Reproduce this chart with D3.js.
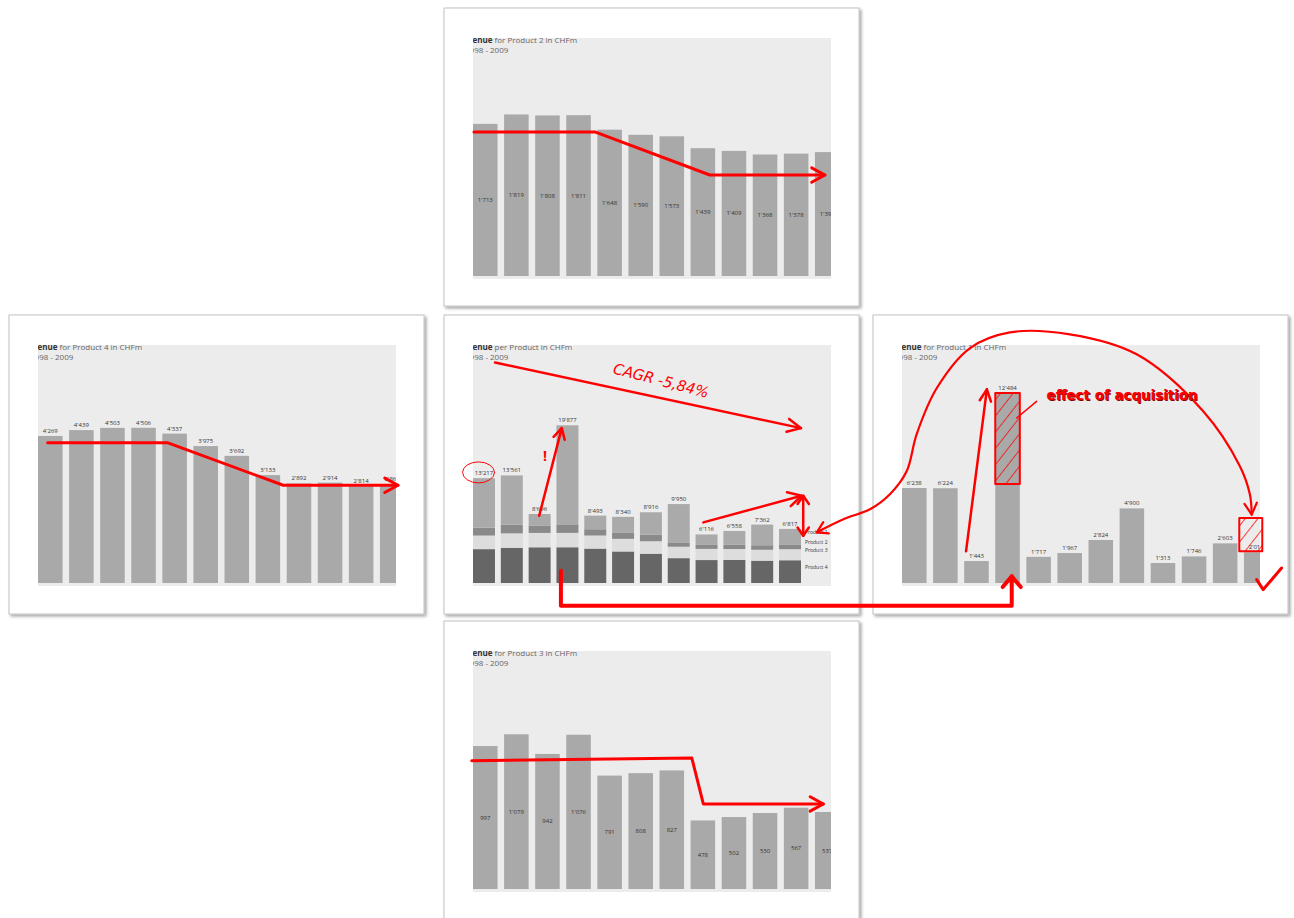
<!DOCTYPE html>
<html>
<head>
<meta charset="utf-8">
<script src="https://cdn.jsdelivr.net/npm/d3@7"></script>
<style>
  body { margin: 0; background: #fff; }
  svg { display: block; font-family: "Open Sans", "Liberation Sans", sans-serif; }
</style>
</head>
<body>
<div id="container"></div>
<script>
let w = 1294;
let h = 918;

// data (CHF m)
const years = ["1998", "1999", "2000", "2001", "2002", "2003", "2004", "2005", "2006", "2007", "2008", "2009"];
const product1 = [6238, 6224, 1443, 12484, 1717, 1967, 2824, 4900, 1313, 1746, 2603, 2018];
const product2 = [1713, 1819, 1808, 1811, 1648, 1590, 1573, 1439, 1409, 1368, 1378, 1395];
const product3 = [997, 1079, 942, 1076, 791, 808, 827, 478, 502, 530, 567, 537];
const product4 = [4269, 4439, 4503, 4506, 4337, 3975, 3692, 3133, 2892, 2914, 2814, 2867];
const productNames = ["Product 1", "Product 2", "Product 3", "Product 4"];
const stackOrder = ["Product 4", "Product 2", "Product 3", "Product 1"]; // bottom -> top
const acquisitionBase = 6500; // 2001 product 1 without the acquisition

const fmt = d3.formatLocale({decimal: ".", thousands: "'", grouping: [3], currency: ["", ""]}).format(",");

let viz = d3.select("#container").append("svg")
    .attr("width", w)
    .attr("height", h)
    .style("background-color", "#fff");

let defs = viz.append("defs");
let shadow = defs.append("filter").attr("id", "shadow")
    .attr("x", "-5%").attr("y", "-5%").attr("width", "110%").attr("height", "110%");
shadow.append("feDropShadow")
    .attr("dx", 2).attr("dy", 2).attr("stdDeviation", 1.6)
    .attr("flood-color", "#000").attr("flood-opacity", 0.35);

let hatch = defs.append("pattern").attr("id", "hatch")
    .attr("patternUnits", "userSpaceOnUse")
    .attr("width", 10).attr("height", 10)
    .attr("patternTransform", "rotate(38)");
hatch.append("line").attr("x1", 0).attr("y1", 0).attr("x2", 0).attr("y2", 10)
    .attr("stroke", "#ff0000").attr("stroke-width", 1.5);

// one card per chart
let panels = [
  {id: "p2", x: 444, y: 8, ch: 298, what: " for Product 2 in CHFm", values: product2, max: 2680, labels: "mid"},
  {id: "p4", x: 9, y: 315, ch: 299, what: " for Product 4 in CHFm", values: product4, max: 6910, labels: "top"},
  {id: "tot", x: 444, y: 315, ch: 299, what: " per Product in CHFm", stacked: true, max: 30000, labels: "top"},
  {id: "p1", x: 873, y: 315, ch: 299, what: " for Product 1 in CHFm", values: product1, max: 15630, labels: "top"},
  {id: "p3", x: 444, y: 621, ch: 310, what: " for Product 3 in CHFm", values: product3, max: 1660, labels: "mid"}
];

let table = years.map((y, i) => ({
  year: y,
  "Product 1": product1[i], "Product 2": product2[i], "Product 3": product3[i], "Product 4": product4[i]
}));
let totals = table.map(d => productNames.reduce((s, k) => s + d[k], 0));
let stackColors = {"Product 4": "#666666", "Product 2": "#dddddd", "Product 3": "#8a8a8a", "Product 1": "#aaaaaa"};

panels.forEach(drawPanel);

function drawPanel(p) {
  let g = viz.append("g").attr("transform", "translate(" + p.x + "," + p.y + ")");
  g.append("rect")
      .attr("width", 415).attr("height", p.ch)
      .attr("fill", "#fff").attr("stroke", "#c2c2c2")
      .attr("filter", "url(#shadow)");

  defs.append("clipPath").attr("id", "clip-" + p.id)
    .append("rect").attr("x", 29).attr("y", 27).attr("width", 358).attr("height", 246);

  let inner = g.append("g").attr("clip-path", "url(#clip-" + p.id + ")");
  inner.append("rect").attr("x", 29).attr("y", 30).attr("width", 358).attr("height", 241).attr("fill", "#ececec");

  p.xScale = d3.scaleBand().domain(years)
      .range(p.stacked ? [29, 357] : [29, 395.5])
      .paddingInner(0.21).paddingOuter(0);
  p.yScale = d3.scaleLinear().domain([0, p.max]).range([268, 30]);
  let x = p.xScale, y = p.yScale;

  // title, cut off on the left like the screenshot
  let t = inner.append("text").attr("x", 14).attr("y", 35).attr("font-size", 8).attr("fill", "#666");
  t.append("tspan").attr("font-weight", "bold").attr("fill", "#333").text("Revenue");
  t.append("tspan").text(p.what);
  inner.append("text").attr("x", 21).attr("y", 45).attr("font-size", 8).attr("fill", "#666").text("1998 - 2009");

  if (p.stacked) {
    let series = d3.stack().keys(stackOrder)(table);
    inner.selectAll(".layer").data(series).enter()
      .append("g")
        .attr("class", "layer")
        .attr("fill", d => stackColors[d.key])
      .selectAll("rect").data(d => d).enter()
      .append("rect")
        .attr("x", d => x(d.data.year))
        .attr("width", x.bandwidth())
        .attr("y", d => y(d[1]))
        .attr("height", d => y(d[0]) - y(d[1]));

    inner.selectAll(".total").data(totals).enter()
      .append("text")
        .attr("class", "total")
        .attr("x", (d, i) => x(years[i]) + x.bandwidth() / 2)
        .attr("y", d => y(d) - 3)
        .attr("text-anchor", "middle").attr("font-size", 6).attr("fill", "#333")
        .text(d => fmt(d));

    // legend next to last bar: segments from top down
    let last = series.map(s => s[s.length - 1]).reverse();
    inner.selectAll(".legend").data(productNames).enter()
      .append("text")
        .attr("class", "legend")
        .attr("x", x(years[11]) + x.bandwidth() + 4)
        .attr("y", (d, i) => y((last[i][0] + last[i][1]) / 2) - 3)
        .attr("font-size", 5).attr("fill", "#333")
        .text(d => d);
  } else {
    inner.selectAll(".bar").data(p.values).enter()
      .append("rect")
        .attr("class", "bar")
        .attr("x", (d, i) => x(years[i]))
        .attr("width", x.bandwidth())
        .attr("y", d => y(d))
        .attr("height", d => y(0) - y(d))
        .attr("fill", "#a9a9a9");

    inner.selectAll(".val").data(p.values).enter()
      .append("text")
        .attr("class", "val")
        .attr("x", (d, i) => x(years[i]) + x.bandwidth() / 2)
        .attr("y", d => p.labels == "mid" ? (y(d) + y(0)) / 2 + 2 : y(d) - 3)
        .attr("text-anchor", "middle").attr("font-size", 6).attr("fill", "#333")
        .text(d => fmt(d));
  }
}

// ---- red hand annotations, placed in each chart's own scale units ----
let P = {};
panels.forEach(p => P[p.id] = p);
function px(p, pos) { return p.x + p.xScale(years[0]) + pos * p.xScale.step(); }
function py(p, v) { return p.y + p.yScale(v); }
function pt(p, d) { return [px(p, d[0]), py(p, d[1])]; }

let red = "#ff0000";
let ann = viz.append("g")
    .attr("fill", "none").attr("stroke", red)
    .attr("stroke-linecap", "round").attr("stroke-linejoin", "round");

function arrowHead(tip, from, len, spread) {
  let a = Math.atan2(tip[1] - from[1], tip[0] - from[0]);
  return d3.line()([
    [tip[0] - len * Math.cos(a - spread), tip[1] - len * Math.sin(a - spread)],
    tip,
    [tip[0] - len * Math.cos(a + spread), tip[1] - len * Math.sin(a + spread)]
  ]);
}
function arrowPath(xy, width, len, spread) {
  ann.append("path").attr("d", d3.line()(xy)).attr("stroke-width", width);
  ann.append("path").attr("d", arrowHead(xy[xy.length - 1], xy[xy.length - 2], len || 15, spread || 0.5))
      .attr("stroke-width", width);
}

// trend lines on the single product charts
arrowPath([[0.03, 1622], [3.92, 1622], [7.62, 1137], [11.32, 1137]].map(d => pt(P.p2, d)), 3);
arrowPath([[0.31, 4075], [4.16, 4075], [7.89, 2838], [11.58, 2838]].map(d => pt(P.p4, d)), 3);
arrowPath([[-0.04, 895], [7.04, 913], [7.41, 593], [11.27, 593]].map(d => pt(P.p3, d)), 3);

// CAGR arrow
let tot = P.tot;
let cagrA = pt(tot, [0.79, 27800]), cagrB = pt(tot, [11.79, 19520]);
arrowPath([cagrA, cagrB], 2.5, 15, 0.45);
let cagr = Math.pow(totals[11] / totals[0], 1 / (years.length - 1)) - 1;
let ang = Math.atan2(cagrB[1] - cagrA[1], cagrB[0] - cagrA[0]);
let tx = cagrA[0] + 0.53 * (cagrB[0] - cagrA[0]) + 12 * Math.sin(ang);
let ty = cagrA[1] + 0.53 * (cagrB[1] - cagrA[1]) - 12 * Math.cos(ang);
viz.append("text")
    .attr("transform", "translate(" + tx + "," + ty + ") rotate(" + (ang * 180 / Math.PI + 2.5) + ")")
    .attr("text-anchor", "middle")
    .attr("font-family", "'DejaVu Sans', sans-serif").attr("font-style", "italic")
    .attr("font-size", 15).attr("fill", red)
    .attr("textLength", 98).attr("lengthAdjust", "spacingAndGlyphs")
    .text("CAGR " + d3.format(".2%")(cagr).replace(".", ",").replace("−", "-"));

// circle on the first total, exclamation and arrows
ann.append("ellipse")
    .attr("cx", px(tot, 0.2)).attr("cy", py(tot, 13942))
    .attr("rx", 16).attr("ry", 10.5).attr("stroke-width", 1);
viz.append("text")
    .attr("x", px(tot, 2.59)).attr("y", py(tot, 15995) + 5)
    .attr("text-anchor", "middle").attr("font-weight", "bold")
    .attr("font-size", 14).attr("fill", red).text("!");
arrowPath([pt(tot, [2.38, 8476]), pt(tot, [3.19, 19521])], 2.5, 12, 0.5);
arrowPath([pt(tot, [8.28, 7645]), pt(tot, [11.81, 10995])], 2.5, 15, 0.5);
let dA = pt(tot, [11.87, 10995]), dB = pt(tot, [11.87, 5957]);
arrowPath([dA, dB], 2.5, 10, 0.6);
ann.append("path").attr("d", arrowHead(dA, dB, 10, 0.6)).attr("stroke-width", 2.5);

// from the 2001 base to the acquisition bar
let p1 = P.p1;
arrowPath([
  pt(tot, [3.16, 1549]),
  pt(tot, [3.16, -2859]),
  [px(p1, 3.53), py(tot, -2859)],
  pt(p1, [3.53, 440])
], 4, 14, 0.7);

// right chart
arrowPath([pt(p1, [2.06, 2081]), pt(p1, [2.73, 12718])], 2.5, 13, 0.45);
let bx = p1.x + p1.xScale(years[3]);
ann.append("rect")
    .attr("x", bx).attr("width", p1.xScale.bandwidth())
    .attr("y", py(p1, product1[3])).attr("height", py(p1, acquisitionBase) - py(p1, product1[3]))
    .attr("fill", "url(#hatch)").attr("stroke-width", 2);
ann.append("path").attr("d", d3.line()([pt(p1, [3.69, 10834]), pt(p1, [4.33, 11930])])).attr("stroke-width", 1.5);
let eff = pt(p1, [4.65, 12050]);
[["#8a0000", 1], [red, 0]].forEach(s => {
  viz.append("text")
      .attr("x", eff[0] + s[1]).attr("y", eff[1] + s[1])
      .attr("font-family", "'DejaVu Sans', sans-serif").attr("font-weight", "bold")
      .attr("font-size", 14).attr("fill", s[0])
      .attr("textLength", 151).attr("lengthAdjust", "spacingAndGlyphs")
      .text("effect of acquisition");
});
let sbA = pt(p1, [10.85, 4270]), sbB = pt(p1, [11.59, 2080]);
ann.append("rect")
    .attr("x", sbA[0]).attr("y", sbA[1])
    .attr("width", sbB[0] - sbA[0]).attr("height", sbB[1] - sbA[1])
    .attr("fill", "url(#hatch)").attr("stroke-width", 2);
ann.append("path")
    .attr("d", d3.line()([[11.41, 223], [11.62, -433], [12.21, 985]].map(d => pt(p1, d))))
    .attr("stroke-width", 3);

// the big loop between the two charts
let loop = [[-2.74, 3329], [-1.83, 4235], [-1.03, 4839], [-0.39, 5824], [0.15, 7334], [0.47, 9764],
  [1.12, 12804], [2.19, 15430], [3.47, 16461], [5.4, 16330], [7.55, 15017], [9.69, 11274],
  [10.87, 7663], [11.19, 5824], [11.25, 4491]].map(d => pt(p1, d));
ann.append("path").attr("d", d3.line().curve(d3.curveCatmullRom)(loop)).attr("stroke-width", 2.2);
ann.append("path").attr("d", arrowHead(loop[loop.length - 1], loop[loop.length - 2], 13, 0.5)).attr("stroke-width", 2.2);
ann.append("path").attr("d", arrowHead(loop[0], loop[1], 12, 0.55)).attr("stroke-width", 2.2);
</script>
</body>
</html>
